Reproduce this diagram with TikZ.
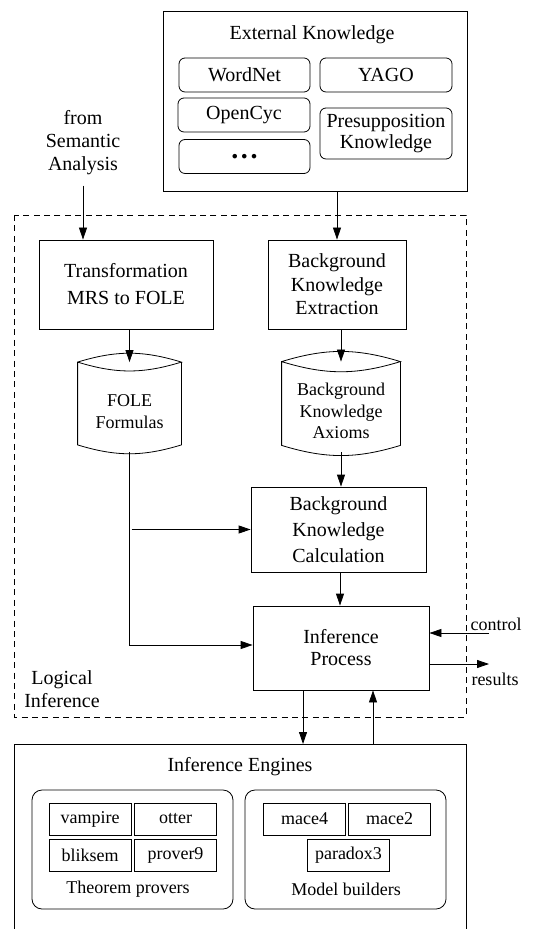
\documentclass[tikz,border=0pt]{standalone}
\usepackage{fontspec}
\setmainfont{Liberation Serif}
\usetikzlibrary{arrows.meta,positioning,calc}

\begin{document}
\begin{tikzpicture}[x=0.5pt,y=-0.5pt,
    box/.style={draw, align=center, inner sep=0pt, font=\fontsize{10}{12.5}\selectfont},
    rbox/.style={box, rounded corners=3pt, minimum height=17pt},
    tool/.style={draw, inner sep=0pt, minimum width=41pt, minimum height=16pt, font=\fontsize{9}{11}\selectfont},
    grp/.style={draw, rounded corners=5pt, minimum width=100.5pt, minimum height=59.5pt},
    lbl/.style={align=center, inner sep=0pt, font=\fontsize{10}{11.5}\selectfont},
    arr/.style={-{Triangle[length=6pt,width=4pt]}}]
      \useasboundingbox (0,0) rectangle (555,929);
      % External knowledge
      \node[draw, minimum width=152pt, minimum height=90pt] (ext) at (315,101) {};
      \node[lbl] (exttitle) at (312,35) {External Knowledge};
      \node[rbox, minimum width=65.5pt] (wordnet) at (244.5,75) {WordNet};
      \node[rbox, minimum width=66pt] (yago) at (386,75) {YAGO};
      \node[rbox, minimum width=66pt] (opencyc) at (244,115) {OpenCyc};
      \node[rbox, minimum width=65.5pt] (etc) at (244.5,156.5) {\fontsize{14}{14}\selectfont\textbf{.\hspace{1.3pt}.\hspace{1.3pt}.}};
      \node[rbox, minimum width=66pt, minimum height=25.5pt, font=\fontsize{10}{10.5}\selectfont] (presup) at (386,133.5) {Presupposition\\Knowledge};
      \node[lbl] (fromsem) at (83,143) {from\\Semantic\\Analysis};
      % Logical inference (dashed)
      \draw[dash pattern=on 3pt off 2.2pt] (14,215) rectangle (466,717);
      \node[lbl] (logic) at (62,689) {Logical\\Inference};
      \node[box, minimum width=87pt, minimum height=44.5pt, font=\fontsize{10}{13.5}\selectfont] (trans) at (126,284.5) {Transformation\\MRS to FOLE};
      \node[box, minimum width=69pt, minimum height=44.5pt, font=\fontsize{10}{11.8}\selectfont] (bke) at (337,284.5) {Background\\Knowledge\\Extraction};
      % cylinders
      \node[inner sep=0pt, minimum width=51.5pt, minimum height=48.5pt] (fole) at (129.5,403) {};
      \draw ([yshift=-4pt]fole.north west) to[bend left=17] ([yshift=-4pt]fole.north east)
            to[bend left=17] ([yshift=-4pt]fole.north west) -- ([yshift=3.5pt]fole.south west)
            to[bend right=17] ([yshift=3.5pt]fole.south east) -- ([yshift=-4pt]fole.north east);
      \node[lbl, font=\fontsize{9}{11}\selectfont] (folet) at (129.5,412) {FOLE\\Formulas};
      \node[inner sep=0pt, minimum width=59pt, minimum height=49pt] (axioms) at (341,403) {};
      \draw ([yshift=-4pt]axioms.north west) to[bend left=17] ([yshift=-4pt]axioms.north east)
            to[bend left=17] ([yshift=-4pt]axioms.north west) -- ([yshift=3.5pt]axioms.south west)
            to[bend right=17] ([yshift=3.5pt]axioms.south east) -- ([yshift=-4pt]axioms.north east);
      \node[lbl, font=\fontsize{9}{10.8}\selectfont] (axiomst) at (341,411) {Background\\Knowledge\\Axioms};
      \node[box, minimum width=87.5pt, minimum height=42.5pt, font=\fontsize{10}{13}\selectfont] (calc) at (338.5,529.5) {Background\\Knowledge\\Calculation};
      \node[box, minimum width=88pt, minimum height=42pt, font=\fontsize{10}{11}\selectfont] (infer) at (341,648) {Inference\\Process};
      \coordinate (ctrl) at (489,633);
      \coordinate (res) at (489,664);
      \node[lbl, font=\fontsize{9}{11}\selectfont] (ctrltext) at (496,624) {control};
      \node[lbl, font=\fontsize{9}{11}\selectfont] (restext) at (495,679) {results};
      % Inference engines (open at the bottom)
      \draw (14,929) -- (14,744) -- (466,744) -- (466,929);
      \coordinate (engtop) at (340,744);
      \node[lbl] (engtitle) at (240,767) {Inference Engines};
      \node[grp] (thm) at (132.5,849.5) {};
      \node[grp] (mdl) at (345.5,849.5) {};
      \node[tool] (vampire) at (90,819) {vampire};
      \node[tool] (otter) at (175.5,819) {otter};
      \node[tool] (bliksem) at (90,855) {bliksem};
      \node[tool] (prover) at (175.5,855) {prover9};
      \node[tool] (mace4) at (304.5,819) {mace4};
      \node[tool] (mace2) at (389.5,819) {mace2};
      \node[tool] (paradox) at (348.5,855) {paradox3};
      \node[lbl, font=\fontsize{9}{11}\selectfont] (thmtext) at (128,889) {Theorem provers};
      \node[lbl, font=\fontsize{9}{11}\selectfont] (mdltext) at (346,889) {Model builders};
      % Arrows
      \draw[arr] ([yshift=-5pt]fromsem.south) -- (fromsem.south |- trans.north);
      \draw[arr] (bke.north |- ext.south) -- (bke.north);
      \draw[arr] (trans.south -| fole) -- ([yshift=-4pt]fole.north);
      \draw[arr] (bke.south -| axioms) -- ([yshift=-4pt]axioms.north);
      \draw[arr] (axioms.south) -- (axioms.south |- calc.north);
      \draw[arr] (fole.south) |- (infer.west |- 0,645);
      \draw[arr] ([xshift=1pt]fole.south |- calc.west) -- (calc.west);
      \draw[arr] (calc.south -| 340,0) -- (infer.north -| 340,0);
      \draw[arr] (ctrl) -- (infer.east |- ctrl);
      \draw[arr] (infer.east |- res) -- (res);
      \draw[arr] ([xshift=-19pt]infer.south) -- ([xshift=-19pt]infer.south |- engtop);
      \draw[arr] ([xshift=16pt]infer.south |- engtop) -- ([xshift=16pt]infer.south);
    \end{tikzpicture}
\end{document}
